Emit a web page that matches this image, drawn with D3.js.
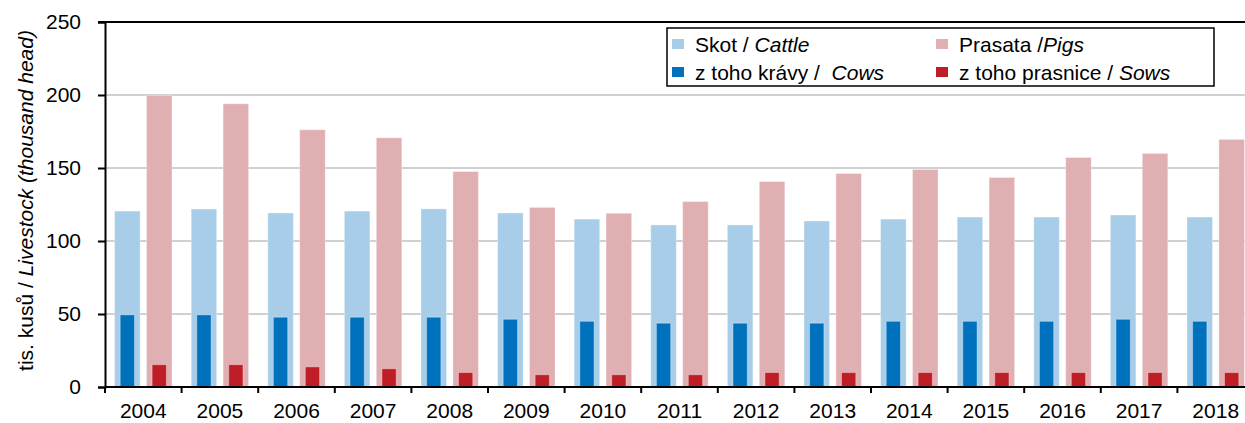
<!DOCTYPE html>
<html>
<head>
<meta charset="utf-8">
<script src="https://cdn.jsdelivr.net/npm/d3@7"></script>
<style>
  body { margin: 0; background: #fff; }
  svg { font-family: "Liberation Sans", Arial, sans-serif; }
</style>
</head>
<body>
<div id="chart"></div>
<script>
// data (thousand head)
const years = ["2004", "2005", "2006", "2007", "2008", "2009", "2010", "2011", "2012", "2013", "2014", "2015", "2016", "2017", "2018"];
const cattle = [120.5, 121.9, 119.2, 120.5, 122.0, 119.2, 115.0, 111.0, 111.0, 113.7, 115.0, 116.4, 116.4, 117.8, 116.4];
const pigs = [199.6, 194.0, 176.2, 170.7, 147.6, 123.0, 119.0, 127.0, 140.7, 146.2, 149.0, 143.5, 157.2, 160.0, 169.6];
const cows = [49.4, 49.4, 47.8, 47.8, 47.8, 46.4, 45.0, 43.7, 43.7, 43.7, 45.0, 45.0, 45.0, 46.4, 45.0];
const sows = [15.3, 15.3, 13.8, 12.5, 9.9, 8.4, 8.4, 8.4, 9.9, 9.9, 9.9, 9.9, 9.9, 9.9, 9.9];
const yTicks = [0, 50, 100, 150, 200, 250];

const legendItems = [
    { label: "Skot / ", italic: "Cattle", color: "#a7cde8" },
    { label: "z toho krávy /  ", italic: "Cows", color: "#0071bd" },
    { label: "Prasata /", italic: "Pigs", color: "#e0afb2" },
    { label: "z toho prasnice / ", italic: "Sows", color: "#c01e26" }
];

const W = 1245, H = 423;
const margin = { top: 22, right: -9, bottom: 36, left: 105 };
const width = W - margin.left - margin.right;
const height = H - margin.top - margin.bottom;
const fontSize = 21;

const svg = d3.select("#chart")
    .append("svg")
    .attr("width", W)
    .attr("height", H)
    .append("g")
    .attr("transform", `translate(${margin.left},${margin.top})`);

// scales
const x = d3.scaleBand().domain(years).range([0, width]).padding(0);
const x1 = d3.scaleBand().domain(["a", "b"]).range([0, x.bandwidth()])
    .paddingInner(0.2).paddingOuter(0.3);
const y = d3.scaleLinear().domain([0, 250]).range([height, 0]);

// grid lines
svg.append("g")
    .selectAll("line")
    .data(yTicks.filter(d => d > 0 && d < 250))
    .join("line")
    .attr("x1", 0)
    .attr("x2", width)
    .attr("y1", d => y(d))
    .attr("y2", d => y(d))
    .attr("stroke", "#c0c0c0")
    .attr("stroke-width", 1.5);

// bars
const wide = x1.bandwidth();
const narrow = wide * 0.56;
const rows = years.map((yr, i) => ({ yr, cattle: cattle[i], pigs: pigs[i], cows: cows[i], sows: sows[i] }));

function drawBars(key, sub, w, color) {
    svg.append("g")
        .selectAll("rect")
        .data(rows)
        .join("rect")
        .attr("x", d => x(d.yr) + x1(sub) + (wide - w) / 2)
        .attr("width", w)
        .attr("y", d => y(d[key]))
        .attr("height", d => y(0) - y(d[key]))
        .attr("fill", color)
        .attr("stroke", "#fff")
        .attr("stroke-opacity", 0.35)
        .attr("stroke-width", 1);
}
drawBars("cattle", "a", wide, "#a7cde8");
drawBars("pigs", "b", wide, "#e0afb2");
drawBars("cows", "a", narrow, "#0071bd");
drawBars("sows", "b", narrow, "#c01e26");

// y axis
const yAxis = d3.axisLeft(y).tickValues(yTicks).tickSize(7).tickPadding(17);
svg.append("g")
    .call(yAxis)
    .call(g => g.select(".domain").attr("stroke-width", 2))
    .call(g => g.selectAll(".tick line").attr("stroke-width", 2))
    .call(g => g.selectAll("text").attr("font-size", fontSize).attr("fill", "#000")
        .attr("font-family", "Liberation Sans, Arial, sans-serif"));

// top frame line
svg.append("line")
    .attr("x1", -7).attr("x2", width)
    .attr("y1", y(250)).attr("y2", y(250))
    .attr("stroke", "#000").attr("stroke-width", 2);

// x axis
const xAxis = d3.axisBottom(x).tickSize(0).tickPadding(16);
svg.append("g")
    .attr("transform", `translate(0,${height})`)
    .call(xAxis)
    .call(g => g.select(".domain").remove())
    .call(g => g.selectAll("text").attr("font-size", fontSize).attr("fill", "#000")
        .attr("font-family", "Liberation Sans, Arial, sans-serif"));

svg.append("line")
    .attr("x1", 0).attr("x2", width)
    .attr("y1", height).attr("y2", height)
    .attr("stroke", "#000").attr("stroke-width", 2);

// tick marks between categories
svg.append("g")
    .selectAll("line")
    .data(years.map(d => x(d)).concat([width]))
    .join("line")
    .attr("x1", d => d).attr("x2", d => d)
    .attr("y1", height).attr("y2", height + 6)
    .attr("stroke", "#000").attr("stroke-width", 2);

// y axis label
const yLabel = svg.append("text")
    .attr("transform", `translate(${-72},${height / 2 - 4}) rotate(-90)`)
    .attr("text-anchor", "middle")
    .attr("font-size", fontSize)
    .attr("fill", "#000");
yLabel.append("tspan").text("tis. kusů / ");
yLabel.append("tspan").attr("font-style", "italic").text("Livestock (thousand head)");

// legend
const legend = svg.append("g").attr("transform", `translate(${667 - margin.left},${28 - margin.top})`);
legend.append("rect")
    .attr("width", 547)
    .attr("height", 58)
    .attr("fill", "#fff")
    .attr("stroke", "#000")
    .attr("stroke-width", 1.5);

const li = legend.selectAll(".item")
    .data(legendItems)
    .join("g")
    .attr("class", "item")
    .attr("transform", (d, i) => `translate(${i < 2 ? 5 : 269},${i % 2 === 0 ? 11 : 39})`);
li.append("rect")
    .attr("width", 12)
    .attr("height", 10)
    .attr("fill", d => d.color);
li.append("text")
    .attr("x", 23)
    .attr("y", 13)
    .attr("font-size", fontSize)
    .attr("fill", "#000")
    .call(t => t.append("tspan").attr("xml:space", "preserve").text(d => d.label))
    .call(t => t.append("tspan").attr("font-style", "italic").text(d => d.italic));
</script>
</body>
</html>
